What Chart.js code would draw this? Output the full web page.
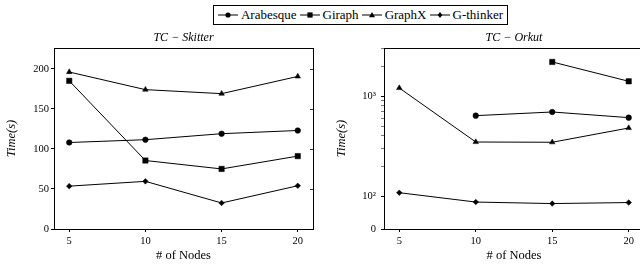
<!DOCTYPE html>
<html>
<head>
<meta charset="utf-8">
<script src="https://cdn.jsdelivr.net/npm/chart.js@4/dist/chart.umd.min.js"></script>
<style>
  html, body { margin: 0; padding: 0; width: 640px; height: 267px; overflow: hidden; background: #fff; }
  #wrap { position: relative; width: 640px; height: 267px; overflow: hidden; }
  .cv { position: absolute; top: 0; }
  #legend { position: absolute; left: 213px; top: 5px; width: 295px; height: 20px; border: 1px solid #000;
    display: flex; align-items: center; justify-content: center; font-family: "Liberation Serif", serif; font-size: 13px; color: #000; box-sizing: border-box; }
  #legend span.item { display: inline-flex; align-items: center; margin: 0 1.5px; }
  #legend svg { margin-right: 3px; }
</style>
</head>
<body>
<div id="wrap">
  <div id="legend"></div>
  <div class="cv" style="left:0px;width:330px;height:267px;"><canvas id="c1" width="330" height="267"></canvas></div>
  <div class="cv" style="left:320px;width:330px;height:267px;"><canvas id="c2" width="330" height="267"></canvas></div>
</div>
<script>
// ---- data ----
const seriesNames = ["Arabesque", "Giraph", "GraphX", "G-thinker"];
const nodes = [5, 10, 15, 20];
const xTicks = [5, 10, 15, 20];

const skitterArabesque = [108, 111.5, 119, 123];
const skitterGiraph    = [185, 85.5, 75, 91];
const skitterGraphX    = [196, 174, 169, 190.5];
const skitterGthinker  = [53.5, 59.5, 32.5, 54];
const skitterYTicks = [0, 50, 100, 150, 200];

const orkutArabesque = [null, 640, 696, 611];
const orkutGiraph    = [null, null, 2210, 1414];
const orkutGraphX    = [1211, 348, 346, 481];
const orkutGthinker  = [108, 87, 84, 86];
const orkutYMajor = [100, 1000];
const orkutYMinor = [200, 300, 400, 500, 600, 700, 800, 900, 2000, 3000];

const chartTitles = ["TC \u2212 Skitter", "TC \u2212 Orkut"];
const xTitle = "# of Nodes";
const yTitle = "Time(s)";

// ---- styles ----
const styles = [
  { pointStyle: "circle",   radius: 2.8 },
  { pointStyle: "rect",     radius: 3.8 },
  { pointStyle: "triangle", radius: 3.2 },
  { pointStyle: "rectRot",  radius: 2.8 }
];
const FONT = "'Liberation Serif', serif";

function makeDatasets(arrs) {
  return arrs.map((vals, i) => ({
    label: seriesNames[i],
    data: nodes.map((n, j) => ({ x: n, y: vals[j] })),
    borderColor: "#000",
    backgroundColor: "#000",
    borderWidth: 1,
    pointStyle: styles[i].pointStyle,
    pointRadius: styles[i].radius,
    pointHoverRadius: styles[i].radius,
    pointBorderWidth: 0.5,
    tension: 0,
    spanGaps: false
  }));
}

const boxPlugin = {
  id: "box",
  afterDraw(chart) {
    const { ctx, chartArea: a } = chart;
    ctx.save();
    ctx.strokeStyle = "#000";
    ctx.lineWidth = 1;
    ctx.strokeRect(Math.round(a.left) + 0.5, Math.round(a.top) + 0.5, Math.round(a.right - a.left), Math.round(a.bottom - a.top));
    const ys = chart.scales.y;
    ctx.lineWidth = 0.8;
    ys.ticks.forEach(t => {
      if (t.major === false && !t.label) return;
      const py = Math.round(ys.getPixelForValue(t.value)) + 0.5;
      if (py >= a.bottom - 1) return;
      ctx.beginPath();
      ctx.moveTo(a.right, py);
      ctx.lineTo(a.right - 3, py);
      ctx.stroke();
    });
    ctx.restore();
  }
};

function baseOptions(title, yAxisWidth, yTitlePad, yLabelPad, padRight) {
  return {
    responsive: false,
    animation: false,
    events: [],
    layout: { padding: { left: 0, right: padRight, top: 0, bottom: 0 } },
    plugins: {
      legend: { display: false },
      tooltip: { enabled: false },
      title: {
        display: true, text: title, color: "#000", fullSize: false,
        font: { family: FONT, size: 12, style: "italic", weight: "normal", lineHeight: 1.2 },
        padding: { top: 31, bottom: 2.6 }
      }
    },
    scales: {
      x: {
        type: "linear", min: 4, max: 21,
        afterBuildTicks: s => { s.ticks = xTicks.map(v => ({ value: v })); },
        afterFit: s => { s.height = 38; },
        grid: { display: true, drawOnChartArea: false, drawTicks: true, tickLength: 3, color: "#000", tickColor: "#000" },
        border: { display: true, color: "#000", width: 1 },
        ticks: { color: "#000", font: { family: FONT, size: 10.5 }, padding: 3, maxRotation: 0, autoSkip: false },
        title: { display: true, text: xTitle, color: "#000", font: { family: FONT, size: 12.5, lineHeight: 1.2 }, padding: { top: 0, bottom: 3.5 } }
      },
      y: {
        afterFit: s => { s.width = yAxisWidth; },
        grid: { display: true, drawOnChartArea: false, drawTicks: true, tickLength: 3, color: "#000", tickColor: "#000" },
        border: { display: true, color: "#000", width: 1 },
        ticks: { color: "#000", font: { family: FONT, size: 10.5 }, padding: yLabelPad, autoSkip: false },
        title: { display: true, text: yTitle, color: "#000", font: { family: FONT, size: 12.5, style: "italic", lineHeight: 1.2 }, padding: { top: yTitlePad, bottom: 0 } }
      }
    }
  };
}

// ---- left chart (linear) ----
const opt1 = baseOptions(chartTitles[0], 54, 4.5, 2, 17);
opt1.scales.y.type = "linear";
opt1.scales.y.min = 0;
opt1.scales.y.max = 226;
opt1.scales.y.afterBuildTicks = s => { s.ticks = skitterYTicks.map(v => ({ value: v })); };
new Chart(document.getElementById("c1"), {
  type: "line",
  data: { datasets: makeDatasets([skitterArabesque, skitterGiraph, skitterGraphX, skitterGthinker]) },
  options: opt1,
  plugins: [boxPlugin]
});

// ---- right chart (log) ----
const logMin = 46.7, logMax = 3050;
const opt2 = baseOptions(chartTitles[1], 64, 14, 5, 6);
opt2.scales.y.type = "logarithmic";
opt2.scales.y.min = logMin;
opt2.scales.y.max = logMax;
opt2.scales.y.afterBuildTicks = s => {
  const t = [{ value: logMin, major: true }];
  orkutYMajor.forEach(v => t.push({ value: v, major: true }));
  orkutYMinor.forEach(v => t.push({ value: v, major: false }));
  t.sort((a, b) => a.value - b.value);
  s.ticks = t;
};
opt2.scales.y.ticks.callback = (v) => {
  if (Math.abs(v - logMin) < 1e-6) return "0";
  if (v === 100) return "10\u00B2";
  if (v === 1000) return "10\u00B3";
  return "";
};
opt2.scales.y.grid.tickColor = ctx => (ctx.tick && ctx.tick.major === false) ? "#777" : "#000";
new Chart(document.getElementById("c2"), {
  type: "line",
  data: { datasets: makeDatasets([orkutArabesque, orkutGiraph, orkutGraphX, orkutGthinker]) },
  options: opt2,
  plugins: [boxPlugin]
});

// ---- legend (HTML) ----
const legend = document.getElementById("legend");
seriesNames.forEach((name, i) => {
  const item = document.createElement("span");
  item.className = "item";
  const ns = "http://www.w3.org/2000/svg";
  const svg = document.createElementNS(ns, "svg");
  svg.setAttribute("width", "20"); svg.setAttribute("height", "10");
  const line = document.createElementNS(ns, "line");
  line.setAttribute("x1", "0"); line.setAttribute("x2", "20"); line.setAttribute("y1", "5"); line.setAttribute("y2", "5");
  line.setAttribute("stroke", "#000"); line.setAttribute("stroke-width", "1");
  svg.appendChild(line);
  let m;
  const ps = styles[i].pointStyle;
  if (ps === "circle") { m = document.createElementNS(ns, "circle"); m.setAttribute("cx", "10"); m.setAttribute("cy", "5"); m.setAttribute("r", "2.6"); }
  else if (ps === "rect") { m = document.createElementNS(ns, "rect"); m.setAttribute("x", "7.4"); m.setAttribute("y", "2.4"); m.setAttribute("width", "5.2"); m.setAttribute("height", "5.2"); }
  else if (ps === "triangle") { m = document.createElementNS(ns, "polygon"); m.setAttribute("points", "10,2 13,7.2 7,7.2"); }
  else { m = document.createElementNS(ns, "polygon"); m.setAttribute("points", "10,2 12.3,5 10,8 7.7,5"); }
  m.setAttribute("fill", "#000");
  svg.appendChild(m);
  item.appendChild(svg);
  item.appendChild(document.createTextNode(name));
  legend.appendChild(item);
});
</script>
</body>
</html>
